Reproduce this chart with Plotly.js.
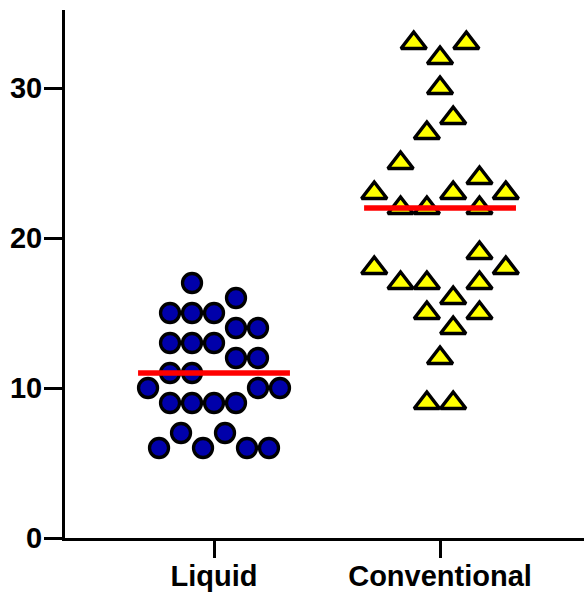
<!DOCTYPE html>
<html>
<head>
<meta charset="utf-8">
<script src="https://cdn.plot.ly/plotly-3.0.1.min.js"></script>
<style>
  html, body { margin: 0; padding: 0; background: #fff; }
  #chart { width: 584px; height: 592px; }
</style>
</head>
<body>
<div id="chart"></div>
<script>
// ---- data ----
const categories = ['Liquid', 'Conventional'];
const tickValues = [0, 10, 20, 30];

const liquidValues = [17, 16, 15, 15, 15, 14, 14, 13, 13, 13, 12, 12, 11, 11,
                      10, 10, 10, 9, 9, 9, 9, 7, 7, 6, 6, 6, 6];
// horizontal scatter slot of each dot (in dot widths), as drawn in the picture
const liquidSlots = [-1, 1, -2, -1, 0, 1, 2, -2, -1, 0, 1, 2, -2, -1,
                     -3, 2, 3, -2, -1, 0, 1, -1.5, 0.5, -2.5, -0.5, 1.5, 2.5];

const conventionalValues = [33, 33, 32, 30, 28, 27, 25, 24, 23, 23, 23, 22, 22, 22,
                            19, 18, 18, 17, 17, 17, 16, 15, 15, 14, 12, 9, 9];
const conventionalSlots = [-1, 1, 0, 0, 0.5, -0.5, -1.5, 1.5, -2.5, 0.5, 2.5, -1.5, -0.5, 1.5,
                           1.5, -2.5, 2.5, -1.5, -0.5, 1.5, 0.5, -0.5, 1.5, 0.5, 0, -0.5, 0.5];

// ---- helpers ----
function median(arr) {
  const s = arr.slice().sort((a, b) => a - b);
  const m = Math.floor(s.length / 2);
  return s.length % 2 ? s[m] : (s[m - 1] + s[m]) / 2;
}

const circleStep = 0.0973;   // category units per dot width
const triangleStep = 0.1164;
const medianHalf = 0.336;

const liquidX = liquidSlots.map(s => 0 + s * circleStep);
const convX = conventionalSlots.map(s => 1 + s * triangleStep);

const medL = median(liquidValues);
const medC = median(conventionalValues);

const traces = [
  {
    type: 'scatter', mode: 'markers', name: categories[0],
    x: liquidX, y: liquidValues,
    marker: { symbol: 'circle', size: 19, color: '#0000AA',
              line: { color: '#000000', width: 3.3 } },
    hoverinfo: 'y'
  },
  {
    type: 'scatter', mode: 'markers', name: categories[1],
    x: convX, y: conventionalValues,
    marker: { symbol: 'triangle-up', size: 22, color: '#FFFF00',
              line: { color: '#000000', width: 3.5 } },
    hoverinfo: 'y'
  },
  {
    type: 'scatter', mode: 'lines', name: 'median ' + categories[0],
    x: [0 - medianHalf, 0 + medianHalf], y: [medL, medL],
    line: { color: '#FF0000', width: 5.5 }, hoverinfo: 'y'
  },
  {
    type: 'scatter', mode: 'lines', name: 'median ' + categories[1],
    x: [1 - medianHalf, 1 + medianHalf], y: [medC, medC],
    line: { color: '#FF0000', width: 5.5 }, hoverinfo: 'y'
  }
];

const tickFont = { family: 'Liberation Sans, Arial, sans-serif', size: 29, color: '#000000', weight: 700 };

const layout = {
  width: 584, height: 592,
  margin: { l: 65, r: 0, t: 10, b: 54, pad: 0 },
  paper_bgcolor: '#ffffff', plot_bgcolor: '#ffffff',
  showlegend: false,
  xaxis: {
    range: [-0.6593, 1.637],
    tickmode: 'array', tickvals: [0, 1], ticktext: categories.map(c => '<b>' + c + '</b>'),
    ticks: 'outside', ticklen: 17, tickwidth: 3, tickcolor: '#000',
    ticklabelstandoff: -7,
    showline: true, linecolor: '#000', linewidth: 3,
    showgrid: false, zeroline: false,
    tickfont: tickFont, fixedrange: true
  },
  yaxis: {
    range: [0, 35.2],
    tickmode: 'array', tickvals: tickValues, ticktext: tickValues.map(v => '<b>' + v + '</b>'),
    ticks: 'outside', ticklen: 18, tickwidth: 3, tickcolor: '#000',
    ticklabelstandoff: -4,
    showline: true, linecolor: '#000', linewidth: 3,
    showgrid: false, zeroline: false,
    tickfont: tickFont, fixedrange: true
  }
};

Plotly.newPlot('chart', traces, layout, { displayModeBar: false, staticPlot: true });
</script>
</body>
</html>
